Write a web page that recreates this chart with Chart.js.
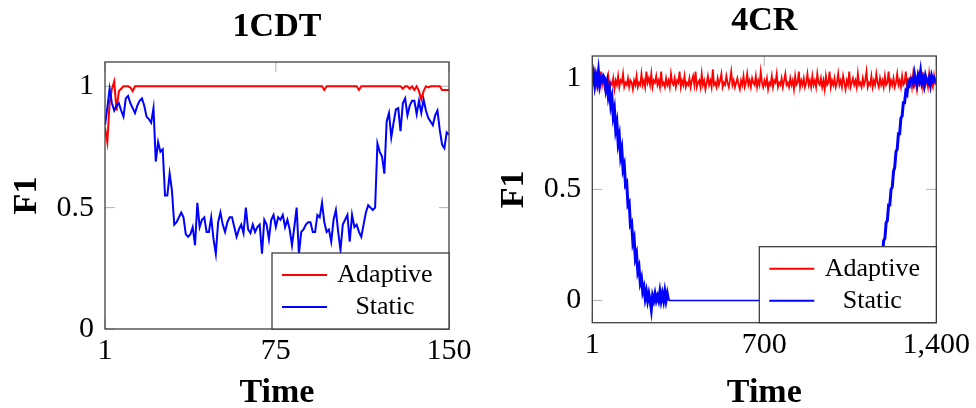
<!DOCTYPE html>
<html>
<head>
<meta charset="utf-8">
<script src="https://cdn.jsdelivr.net/npm/chart.js@4.4.1/dist/chart.umd.min.js"></script>
<style>
  html, body { margin: 0; padding: 0; background: #fff; }
  #wrap { position: relative; width: 976px; height: 408px; }
  canvas { position: absolute; top: 0; }
</style>
</head>
<body>
<div id="wrap">
  <canvas id="chart-1cdt" width="488" height="408" style="left:0;width:488px;height:408px"></canvas>
  <canvas id="chart-4cr" width="488" height="408" style="left:488px;width:488px;height:408px"></canvas>
</div>
<script>
// ---- data ----
const seriesNames = ['Adaptive', 'Static'];
const titles = ['1CDT', '4CR'];
const xTitle = 'Time';
const yTitle = 'F1';
const ticksY = [0, 0.5, 1];
const ticksX1cdt = [1, 75, 150];
const ticksX4cr = [1, 700, 1400];

// 1CDT: one value per time step 1..150
const adaptive1cdt = [
    0.83, 0.77, 0.93, 0.99, 1.02, 0.90, 0.98, 0.99, 1, 1,
    1, 0.995, 0.98, 1, 1, 1, 1, 1, 1, 1,
    1, 1, 1, 1, 1, 1, 1, 1, 1, 1,
    1, 1, 1, 1, 1, 1, 1, 1, 1, 1,
    1, 1, 1, 1, 1, 1, 1, 1, 1, 1,
    1, 1, 1, 1, 1, 1, 1, 1, 1, 1,
    1, 1, 1, 1, 1, 1, 1, 1, 1, 1,
    1, 1, 1, 1, 1, 1, 1, 1, 1, 1,
    1, 1, 1, 1, 1, 1, 1, 1, 1, 1,
    1, 1, 1, 1, 1, 0.985, 1, 1, 1, 1,
    1, 1, 1, 1, 1, 1, 1, 1, 1, 1,
    0.985, 1, 1, 1, 1, 1, 1, 1, 1, 1,
    1, 1, 1, 1, 1, 1, 1, 1, 1, 0.99,
    1, 1, 0.99, 1, 0.985, 1, 0.98, 0.945, 0.98, 1,
    0.995, 1, 1, 1, 1, 1, 0.985, 0.985, 0.985, 0.985
];
const static1cdt = [
    0.84, 0.91, 0.99, 0.93, 0.90, 0.92, 0.93, 0.90, 0.875, 0.95,
    0.96, 0.93, 0.91, 0.89, 0.92, 0.94, 0.95, 0.92, 0.875, 0.865,
    0.85, 0.91, 0.69, 0.77, 0.73, 0.74, 0.55, 0.55, 0.64, 0.57,
    0.43, 0.44, 0.46, 0.48, 0.46, 0.39, 0.38, 0.39, 0.42, 0.345,
    0.52, 0.42, 0.45, 0.46, 0.40, 0.40, 0.46, 0.37, 0.31, 0.44,
    0.48, 0.43, 0.40, 0.44, 0.46, 0.46, 0.42, 0.38, 0.41, 0.43,
    0.395, 0.50, 0.41, 0.395, 0.43, 0.40, 0.42, 0.43, 0.31, 0.45,
    0.43, 0.37, 0.45, 0.47, 0.42, 0.46, 0.45, 0.47, 0.42, 0.45,
    0.41, 0.345, 0.42, 0.50, 0.31, 0.40, 0.41, 0.43, 0.44, 0.44,
    0.40, 0.40, 0.47, 0.46, 0.52, 0.44, 0.40, 0.41, 0.36, 0.45,
    0.49, 0.40, 0.325, 0.43, 0.45, 0.47, 0.36, 0.47, 0.42, 0.43,
    0.40, 0.38, 0.43, 0.48, 0.51, 0.50, 0.49, 0.50, 0.765, 0.73,
    0.71, 0.64, 0.855, 0.89, 0.79, 0.85, 0.905, 0.91, 0.815, 0.93,
    0.95, 0.88, 0.92, 0.94, 0.94, 0.885, 0.94, 0.89, 0.945, 0.90,
    0.87, 0.855, 0.84, 0.88, 0.90, 0.82, 0.76, 0.745, 0.81, 0.80
];

// 4CR: sampled every 5 time steps (t = 1, 6, 11, ... 1396)
const step4cr = 5;
const adaptive4cr = [
    1.00, 0.98, 1.02, 0.97, 1.01, 0.99, 0.96, 1.03, 0.97, 1.00, 0.96, 0.99, 0.97, 1.01, 0.96, 0.98, 0.97, 1.00, 0.95, 0.99,
    0.97, 1.01, 0.96, 0.99, 0.98, 1.02, 0.96, 0.98, 0.97, 1.00, 0.96, 0.99, 0.98, 0.95, 0.99, 0.97, 1.01, 0.96, 0.98, 0.97,
    1.02, 0.97, 0.99, 0.96, 1.03, 0.98, 1.00, 0.97, 1.02, 0.96, 0.99, 0.98, 1.01, 0.97, 0.99, 0.96, 1.03, 0.97, 0.98, 0.96,
    1.00, 0.97, 0.99, 0.96, 1.02, 0.98, 0.97, 1.00, 0.96, 0.99, 0.98, 1.03, 0.96, 0.99, 0.97, 1.01, 0.96, 0.98, 0.97, 1.00,
    0.96, 0.99, 1.01, 0.97, 1.03, 0.96, 0.98, 0.99, 0.96, 1.02, 0.97, 0.99, 0.95, 0.98, 1.01, 0.97, 0.99, 0.96, 1.04, 0.97,
    0.98, 0.96, 1.00, 0.97, 0.99, 1.02, 0.96, 0.98, 0.97, 1.01, 0.98, 0.96, 0.99, 1.03, 0.97, 0.99, 0.96, 0.98, 1.00, 0.97,
    0.95, 0.99, 0.97, 1.01, 0.96, 0.98, 1.02, 0.97, 0.99, 0.96, 1.00, 0.98, 0.97, 1.01, 0.96, 0.99, 0.97, 1.03, 0.98, 0.96,
    0.99, 0.97, 1.00, 0.95, 0.98, 0.97, 1.01, 0.96, 0.99, 0.98, 1.02, 0.96, 0.98, 0.97, 1.00, 0.96, 0.99, 1.02, 0.97, 0.98,
    0.96, 1.00, 0.97, 0.99, 0.95, 1.01, 0.97, 0.98, 1.03, 0.96, 0.99, 0.97, 1.00, 0.96, 0.98, 1.02, 0.97, 0.99, 0.96, 1.01,
    0.97, 0.99, 0.96, 1.02, 0.98, 0.97, 1.00, 0.96, 0.99, 0.95, 1.01, 0.97, 0.98, 1.03, 0.96, 0.99, 0.97, 1.00, 0.96, 0.98,
    1.02, 0.97, 0.99, 0.96, 1.01, 0.98, 0.95, 0.99, 0.97, 1.03, 0.96, 0.98, 1.00, 0.97, 0.99, 0.96, 1.02, 0.97, 0.98, 0.96,
    1.00, 0.97, 0.99, 1.03, 0.96, 0.98, 0.97, 1.01, 0.96, 0.99, 0.97, 1.02, 0.98, 0.96, 1.00, 0.97, 0.99, 0.96, 1.01, 0.97,
    0.98, 1.03, 0.96, 0.99, 0.97, 1.00, 0.96, 0.98, 1.02, 0.97, 0.99, 0.96, 1.01, 0.97, 0.98, 1.03, 0.96, 0.99, 0.97, 1.00,
    0.96, 1.02, 0.97, 0.99, 0.95, 1.01, 0.97, 0.98, 1.03, 0.96, 1.00, 0.97, 0.99, 0.96, 1.02, 0.97, 0.98, 0.96, 1.01, 0.97
];
const static4cr = [
    // t 1..46
    0.99, 1.02, 0.97, 1.01, 0.98, 1.03, 0.97, 1.00, 0.99, 1.01,
    // t 51..306 decline
    1.00, 0.95, 0.98, 0.92, 0.95, 0.88, 0.91, 0.83, 0.86, 0.77, 0.80, 0.71, 0.74, 0.65, 0.68, 0.59, 0.61, 0.52, 0.53, 0.43,
    0.44, 0.34, 0.35, 0.26, 0.28, 0.19, 0.21, 0.13, 0.15, 0.08, 0.10, 0.04, 0.06, 0.01, 0.04, 0.00, 0.03, 0.00, -0.04, 0.02,
    0.00, 0.03, 0.00, 0.02, 0.00, 0.04, 0.00, 0.03, 0.00, 0.04, 0.00, 0.03,
    // t 311..1146 flat
    0, 0, 0, 0, 0, 0, 0, 0, 0, 0, 0, 0, 0, 0, 0, 0, 0, 0, 0, 0,
    0, 0, 0, 0, 0, 0, 0, 0, 0, 0, 0, 0, 0, 0, 0, 0, 0, 0, 0, 0,
    0, 0, 0, 0, 0, 0, 0, 0, 0, 0, 0, 0, 0, 0, 0, 0, 0, 0, 0, 0,
    0, 0, 0, 0, 0, 0, 0, 0, 0, 0, 0, 0, 0, 0, 0, 0, 0, 0, 0, 0,
    0, 0, 0, 0, 0, 0, 0, 0, 0, 0, 0, 0, 0, 0, 0, 0, 0, 0, 0, 0,
    0, 0, 0, 0, 0, 0, 0, 0, 0, 0, 0, 0, 0, 0, 0, 0, 0, 0, 0, 0,
    0, 0, 0, 0, 0, 0, 0, 0, 0, 0, 0, 0, 0, 0, 0, 0, 0, 0, 0, 0,
    0, 0, 0, 0, 0, 0, 0, 0, 0, 0, 0, 0, 0, 0, 0, 0, 0, 0, 0, 0,
    0, 0, 0, 0, 0, 0, 0, 0,
    // t 1151..1296 rise
    0.00, 0.03, 0.04, 0.11, 0.12, 0.19, 0.20, 0.27, 0.28, 0.35, 0.36, 0.43, 0.43, 0.50, 0.51, 0.58, 0.60, 0.67, 0.68, 0.75,
    0.75, 0.82, 0.83, 0.89, 0.89, 0.94, 0.93, 0.98, 0.97, 1.00,
    // t 1301..1396
    1.00, 0.98, 1.02, 0.99, 0.97, 1.01, 0.99, 1.03, 0.98, 1.00, 0.97, 1.01, 0.99, 0.98, 1.00, 0.97, 1.01, 0.99, 1.00, 0.98
];

const RED = '#ff0000';
const BLUE = '#0000ff';
const SERIF = "'Liberation Serif', 'DejaVu Serif', serif";

// pgfplots look: inner tick marks, frame, legend box, titles
const pgfPlugin = {
    id: 'pgf',
    beforeDatasetsDraw(chart, args, o) {
        const { ctx, chartArea: a, scales: { x, y } } = chart;
        ctx.save();
        ctx.strokeStyle = '#b0b0b0';
        ctx.lineWidth = 1;
        ctx.beginPath();
        o.ticksY.forEach(v => {
            const py = y.getPixelForValue(v);
            ctx.moveTo(a.left, py); ctx.lineTo(a.left + 10, py);
            ctx.moveTo(a.right, py); ctx.lineTo(a.right - 10, py);
        });
        o.ticksX.forEach(v => {
            const px = x.getPixelForValue(v);
            ctx.moveTo(px, a.top); ctx.lineTo(px, a.top + 10);
            ctx.moveTo(px, a.bottom); ctx.lineTo(px, a.bottom - 10);
        });
        ctx.stroke();
        ctx.restore();
    },
    afterDatasetsDraw(chart, args, o) {
        const { ctx, chartArea: a } = chart;
        ctx.save();
        // frame
        ctx.strokeStyle = '#404040';
        ctx.lineWidth = 1.3;
        ctx.strokeRect(a.left, a.top, a.right - a.left, a.bottom - a.top);

        // legend, bottom right inside the plot
        const w = 177, h = 76;
        const lx = a.right - w, ly = a.bottom - h;
        ctx.fillStyle = '#fff';
        ctx.fillRect(lx, ly, w, h);
        ctx.strokeStyle = '#303030';
        ctx.lineWidth = 1.2;
        ctx.strokeRect(lx, ly, w, h);
        ctx.font = '26px ' + SERIF;
        ctx.textAlign = 'center';
        ctx.textBaseline = 'alphabetic';
        const rows = [22, 54];
        const ds = chart.data.datasets.slice().sort((p, q) => seriesNames.indexOf(p.label) - seriesNames.indexOf(q.label));
        ds.forEach((d, i) => {
            const ry = ly + rows[i];
            ctx.strokeStyle = d.borderColor;
            ctx.lineWidth = 2;
            ctx.beginPath();
            ctx.moveTo(lx + 10, ry);
            ctx.lineTo(lx + 55, ry);
            ctx.stroke();
            ctx.fillStyle = '#000';
            ctx.fillText(d.label, lx + 113, ry + 7);
        });
        ctx.restore();
    },
    afterDraw(chart, args, o) {
        const { ctx, chartArea: a } = chart;
        const cx = (a.left + a.right) / 2;
        const cy = (a.top + a.bottom) / 2;
        ctx.save();
        ctx.fillStyle = '#000';
        ctx.textAlign = 'center';
        ctx.textBaseline = 'alphabetic';
        ctx.font = 'bold 34px ' + SERIF;
        ctx.fillText(o.title, cx, o.titleY);
        ctx.fillText(xTitle, cx, 402);
        ctx.translate(o.yTitleX, cy);
        ctx.rotate(-Math.PI / 2);
        ctx.fillText(yTitle, 0, 0);
        ctx.restore();
    }
};

function makeChart(id, o) {
    const tickFont = { family: SERIF, size: 30 };
    // noisy stretches look like a thick band, the flat stretch stays thin
    const bandWidth = c => (c.p0.parsed.y === 0 && c.p1.parsed.y === 0) ? o.lw : o.bandLw;
    return new Chart(document.getElementById(id), {
        type: 'line',
        data: {
            datasets: [
                { label: seriesNames[0], data: o.adaptive, borderColor: RED, borderWidth: o.redLw, pointRadius: 0, tension: 0, order: 1 },
                { label: seriesNames[1], data: o.static, borderColor: BLUE, borderWidth: o.lw, pointRadius: 0, tension: 0, order: 0,
                  segment: { borderWidth: bandWidth } }
            ]
        },
        options: {
            responsive: false,
            animation: false,
            events: [],
            layout: { padding: { left: 0, top: o.top, right: o.right, bottom: 0 } },
            plugins: {
                legend: { display: false },
                tooltip: { enabled: false },
                pgf: { ticksX: o.ticksX, ticksY: ticksY, title: o.title, titleY: o.titleY, yTitleX: o.yTitleX }
            },
            scales: {
                x: {
                    type: 'linear', min: o.ticksX[0], max: o.ticksX[o.ticksX.length - 1],
                    grid: { display: false, drawTicks: false }, border: { display: false },
                    ticks: { font: tickFont, color: '#000', padding: 4, maxRotation: 0, callback: v => v.toLocaleString('en-US') },
                    afterBuildTicks: s => { s.ticks = o.ticksX.map(v => ({ value: v })); },
                    afterFit: s => { s.height = o.xHeight; }
                },
                y: {
                    min: o.yMin, max: 1.1,
                    grid: { display: false, drawTicks: false }, border: { display: false },
                    ticks: { font: tickFont, color: '#000', padding: 11, callback: v => String(v) },
                    afterBuildTicks: s => { s.ticks = ticksY.map(v => ({ value: v })); },
                    afterFit: s => { s.width = o.yWidth; }
                }
            }
        },
        plugins: [pgfPlugin]
    });
}

const pts1 = arr => arr.map((v, i) => ({ x: i + 1, y: v }));
const pts4 = arr => arr.map((v, i) => ({ x: 1 + i * step4cr, y: v }));

makeChart('chart-1cdt', {
    adaptive: pts1(adaptive1cdt), static: pts1(static1cdt), lw: 2, bandLw: 2, redLw: 2,
    ticksX: ticksX1cdt, yMin: 0, title: titles[0], titleY: 36, yTitleX: 36,
    top: 62, right: 39, xHeight: 79, yWidth: 105
});
makeChart('chart-4cr', {
    adaptive: pts4(adaptive4cr), static: pts4(static4cr), lw: 1.5, bandLw: 3, redLw: 1.8,
    ticksX: ticksX4cr, yMin: -0.1, title: titles[1], titleY: 30, yTitleX: 35,
    top: 56, right: 39.7, xHeight: 85.3, yWidth: 104.3
});
</script>
</body>
</html>
